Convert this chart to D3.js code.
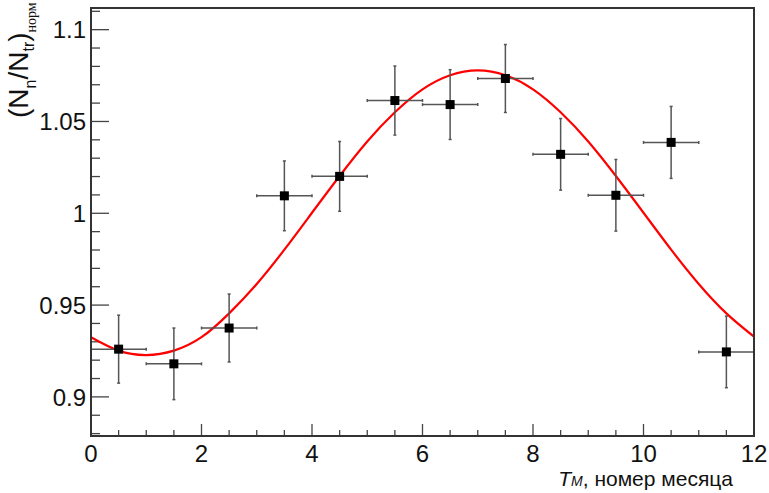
<!DOCTYPE html>
<html>
<head>
<meta charset="utf-8">
<script src="https://cdn.jsdelivr.net/npm/d3@7"></script>
<style>
  body { margin: 0; background: #fff; }
  svg { display: block; font-family: "Liberation Sans", Arial, sans-serif; }
</style>
</head>
<body>
<script>
// month centres and normalised ratio
var months = [0.5, 1.5, 2.5, 3.5, 4.5, 5.5, 6.5, 7.5, 8.5, 9.5, 10.5, 11.5];
var ratio = [0.926, 0.918, 0.9375, 1.0095, 1.0201, 1.0614, 1.0592, 1.0734, 1.0321, 1.0098, 1.0386, 0.9245];
var ratioErr = [0.0185, 0.0195, 0.0185, 0.019, 0.019, 0.0188, 0.019, 0.0185, 0.0195, 0.0195, 0.0196, 0.0195];
var monthErr = 0.5;

// fitted curve
var fitX = [0, 0.5, 1, 1.5, 2, 2.5, 3, 3.5, 4, 4.5, 5, 5.5, 6, 6.5, 7, 7.5, 8, 8.5, 9, 9.5, 10, 10.5, 11, 11.5, 12];
var fitY = [0.9325, 0.9252, 0.9228, 0.9252, 0.9325, 0.9455, 0.9615, 0.9802, 1.0003, 1.0203, 1.0391, 1.055,
            1.0675, 1.0752, 1.0778, 1.0752, 1.0675, 1.055, 1.0391, 1.0203, 1.0003, 0.9802, 0.9615, 0.9455, 0.9328];

var xTicks = [0, 2, 4, 6, 8, 10, 12];
var yTicks = [0.9, 0.95, 1, 1.05, 1.1];

var W = 769, H = 493;
var margin = {left: 91, right: 15, top: 8, bottom: 57};

var svg = d3.select("body").append("svg")
  .attr("width", W)
  .attr("height", H);

var x = d3.scaleLinear().domain([0, 12]).range([margin.left, W - margin.right]);
var y = d3.scaleLinear().domain([0.8787, 1.1118]).range([H - margin.bottom, margin.top]);

var axisColor = "#444";

// minor ticks
var xMinor = d3.range(0, 12.01, 0.5);
var yMinor = d3.range(0.88, 1.115, 0.01);

svg.append("g").selectAll("line")
  .data(xMinor)
  .enter().append("line")
  .attr("x1", function(d) { return x(d); })
  .attr("x2", function(d) { return x(d); })
  .attr("y1", y.range()[0])
  .attr("y2", function(d) { return y.range()[0] - (xTicks.indexOf(d) >= 0 ? 12 : 6); })
  .attr("stroke", axisColor)
  .attr("stroke-width", 1.3);

svg.append("g").selectAll("line")
  .data(yMinor)
  .enter().append("line")
  .attr("x1", x.range()[0])
  .attr("x2", function(d) {
    var major = yTicks.some(function(t) { return Math.abs(t - d) < 1e-6; });
    return x.range()[0] + (major ? 18 : 9);
  })
  .attr("y1", function(d) { return y(d); })
  .attr("y2", function(d) { return y(d); })
  .attr("stroke", axisColor)
  .attr("stroke-width", 1.3);

// tick labels
svg.append("g").selectAll("text")
  .data(xTicks)
  .enter().append("text")
  .attr("x", function(d) { return x(d); })
  .attr("y", 462)
  .attr("text-anchor", "middle")
  .attr("font-size", 24)
  .attr("fill", "#111")
  .text(function(d) { return d; });

svg.append("g").selectAll("text")
  .data(yTicks)
  .enter().append("text")
  .attr("x", 86)
  .attr("y", function(d) { return y(d); })
  .attr("dy", "0.36em")
  .attr("text-anchor", "end")
  .attr("font-size", 24)
  .attr("fill", "#111")
  .text(function(d) { return d; });

// fit
var line = d3.line()
  .x(function(d) { return x(d[0]); })
  .y(function(d) { return y(d[1]); })
  .curve(d3.curveNatural);

svg.append("path")
  .datum(d3.zip(fitX, fitY))
  .attr("d", line)
  .attr("fill", "none")
  .attr("stroke", "#ff0000")
  .attr("stroke-width", 2.2);

// points with errors
var pts = months.map(function(m, i) { return {m: m, v: ratio[i], e: ratioErr[i]}; });
var g = svg.append("g");
var errColor = "#555";

g.selectAll(".hx").data(pts).enter().append("line")
  .attr("x1", function(d) { return x(d.m - monthErr); })
  .attr("x2", function(d) { return x(d.m + monthErr); })
  .attr("y1", function(d) { return y(d.v); })
  .attr("y2", function(d) { return y(d.v); })
  .attr("stroke", errColor).attr("stroke-width", 1.5);

g.selectAll(".vy").data(pts).enter().append("line")
  .attr("x1", function(d) { return x(d.m); })
  .attr("x2", function(d) { return x(d.m); })
  .attr("y1", function(d) { return y(d.v - d.e); })
  .attr("y2", function(d) { return y(d.v + d.e); })
  .attr("stroke", errColor).attr("stroke-width", 1.5);

// small end marks
[-1, 1].forEach(function(s) {
  g.selectAll(".cx" + s).data(pts).enter().append("line")
    .attr("x1", function(d) { return x(d.m + s * monthErr); })
    .attr("x2", function(d) { return x(d.m + s * monthErr); })
    .attr("y1", function(d) { return y(d.v) - 1.5; })
    .attr("y2", function(d) { return y(d.v) + 1.5; })
    .attr("stroke", errColor).attr("stroke-width", 1.5);
  g.selectAll(".cy" + s).data(pts).enter().append("line")
    .attr("x1", function(d) { return x(d.m) - 1.5; })
    .attr("x2", function(d) { return x(d.m) + 1.5; })
    .attr("y1", function(d) { return y(d.v + s * d.e); })
    .attr("y2", function(d) { return y(d.v + s * d.e); })
    .attr("stroke", errColor).attr("stroke-width", 1.5);
});

g.selectAll("rect").data(pts).enter().append("rect")
  .attr("x", function(d) { return x(d.m) - 4.5; })
  .attr("y", function(d) { return y(d.v) - 4.5; })
  .attr("width", 9)
  .attr("height", 9)
  .attr("fill", "#000");

// frame
svg.append("rect")
  .attr("x", x.range()[0])
  .attr("y", y.range()[1])
  .attr("width", x.range()[1] - x.range()[0])
  .attr("height", y.range()[0] - y.range()[1])
  .attr("fill", "none")
  .attr("stroke", "#333")
  .attr("stroke-width", 2);

// axis titles
var xl = svg.append("text")
  .attr("x", 733)
  .attr("y", 486)
  .attr("text-anchor", "end")
  .attr("font-size", 21)
  .attr("fill", "#111");
xl.append("tspan").attr("font-style", "italic").text("T");
xl.append("tspan").attr("font-style", "italic").attr("font-size", 14).text("M");
xl.append("tspan").text(", номер месяца");

var yl = svg.append("text")
  .attr("transform", "translate(28,118) rotate(-90)")
  .attr("font-size", 28)
  .attr("fill", "#111");
yl.append("tspan").text("(N");
yl.append("tspan").attr("font-size", 16).attr("dy", 8).text("n");
yl.append("tspan").attr("dy", -8).text("/N");
yl.append("tspan").attr("font-size", 16).attr("dy", 6).text("tr");
yl.append("tspan").attr("dy", -6).text(")");
yl.append("tspan").attr("font-size", 14).attr("dy", 8)
  .attr("font-family", "'Liberation Serif', serif").text("норм");
</script>
</body>
</html>
